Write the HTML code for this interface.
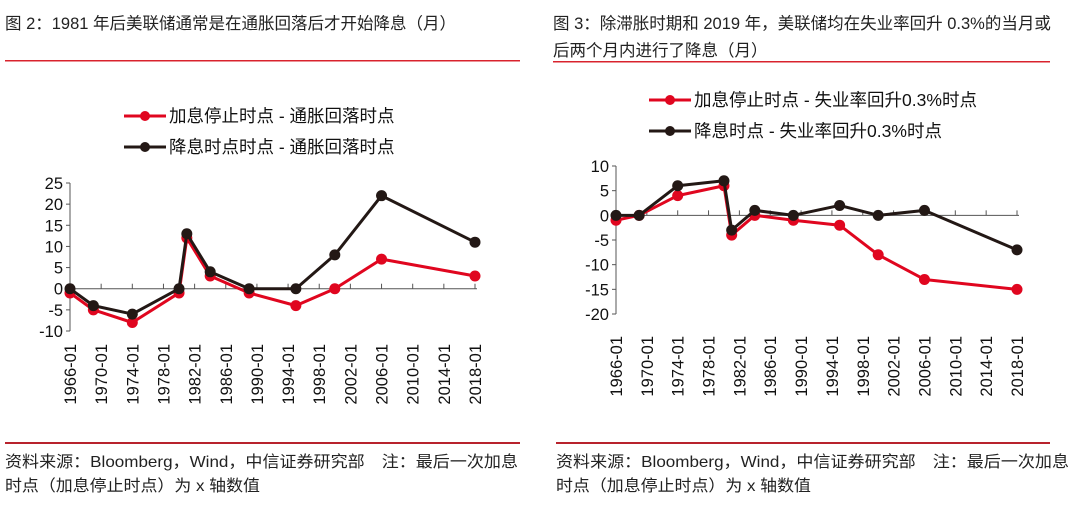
<!DOCTYPE html>
<html><head><meta charset="utf-8"><style>
body{margin:0;background:#fff;width:1080px;height:501px;overflow:hidden;font-family:"Liberation Sans","Noto Sans CJK SC",sans-serif;}
svg text{font-family:"Liberation Sans","Noto Sans CJK SC",sans-serif;}
</style></head><body>
<svg id="s" width="1080" height="501" viewBox="0 0 1080 501" xmlns="http://www.w3.org/2000/svg">
<text x="5" y="29" font-size="16.5" fill="#222">图 2：1981 年后美联储通常是在通胀回落后才开始降息（月）</text>
<rect x="5" y="60" width="515" height="1.5" fill="#d9232d"/>
<text x="553" y="29" font-size="16.5" fill="#222">图 3：除滞胀时期和 2019 年，美联储均在失业率回升 0.3%的当月或</text>
<text x="553" y="56" font-size="16.5" fill="#222">后两个月内进行了降息（月）</text>
<rect x="553" y="61" width="497" height="1.5" fill="#d9232d"/>
<rect x="5" y="442" width="515" height="2" fill="#b8232d"/>
<rect x="556" y="442" width="494" height="2" fill="#b8232d"/>
<text x="5" y="467" font-size="16" textLength="513" lengthAdjust="spacingAndGlyphs" fill="#222">资料来源：Bloomberg，Wind，中信证券研究部　注：最后一次加息</text>
<text x="5" y="491" font-size="16" textLength="255" lengthAdjust="spacingAndGlyphs" fill="#222">时点（加息停止时点）为 x 轴数值</text>
<text x="556" y="467" font-size="16" textLength="513" lengthAdjust="spacingAndGlyphs" fill="#222">资料来源：Bloomberg，Wind，中信证券研究部　注：最后一次加息</text>
<text x="556" y="491" font-size="16" textLength="255" lengthAdjust="spacingAndGlyphs" fill="#222">时点（加息停止时点）为 x 轴数值</text>
<g id="left"></g>
<g id="right"></g>
</svg>
<script>
const tickYears=[1966,1970,1974,1978,1982,1986,1990,1994,1998,2002,2006,2010,2014,2018];
const leftDates=[1966,1969,1974,1980,1981,1984,1989,1995,2000,2006,2018];
const leftRed=[-1,-5,-8,-1,12,3,-1,-4,0,7,3];
const leftBlack=[0,-4,-6,0,13,4,0,0,8,22,11];
const leftYTicks=[25,20,15,10,5,0,-5,-10];
const rightDates=[1966,1969,1974,1980,1981,1984,1989,1995,2000,2006,2018];
const rightRed=[-1,0,4,6,-4,0,-1,-2,-8,-13,-15];
const rightBlack=[0,0,6,7,-3,1,0,2,0,1,-7];
const rightYTicks=[10,5,0,-5,-10,-15,-20];
const RED="#e0061f",BLK="#231815",NS="http://www.w3.org/2000/svg";
function mk(p,tag,a){const e=document.createElementNS(NS,tag);for(const k in a)e.setAttribute(k,a[k]);p.appendChild(e);return e;}
function chart(g,o){
  const xs=v=>o.x0+(v-1966)/(2018-1966)*(o.x1-o.x0);
  const ys=v=>o.yTop+(o.yMax-v)/(o.yMax-o.yMin)*(o.yBot-o.yTop);
  const ax=mk(g,'line',{x1:o.x0,y1:o.yTop,x2:o.x0,y2:o.yBot,stroke:'#555','stroke-width':1});
  
  o.yt.forEach(v=>{
    mk(g,'line',{x1:o.x0-4,x2:o.x0,y1:ys(v),y2:ys(v),stroke:'#555'});
    const t=mk(g,'text',{x:o.x0-7,y:ys(v)+6,'text-anchor':'end','font-size':16.5,fill:'#111'});
    t.textContent=v;
    
  });
  const y0=ys(0);
  const xa=mk(g,'line',{x1:o.x0,y1:y0,x2:o.x1+2,y2:y0,stroke:'#555','stroke-width':1});
  
  tickYears.forEach(yr=>{
    const x=xs(yr);
    mk(g,'line',{x1:x,x2:x,y1:y0-5,y2:y0,stroke:'#555'});
    const t=mk(g,'text',{transform:`translate(${x+6},${o.lab}) rotate(-90)`,'text-anchor':'end','font-size':16.5,fill:'#111'});
    t.textContent=yr+'-01';
    
  });
  [[o.red,RED,'red'],[o.blk,BLK,'black']].forEach(([vals,c,n])=>{
    const pts=vals.map((v,i)=>xs(o.d[i])+','+ys(v)).join(' ');
    const pl=mk(g,'polyline',{points:pts,fill:'none',stroke:c,'stroke-width':3,'stroke-linejoin':'round'});
    
    vals.forEach((v,i)=>{
      const c2=mk(g,'circle',{cx:xs(o.d[i]),cy:ys(v),r:5.5,fill:c});
      
    });
  });
  o.leg.forEach((L,i)=>{
    const y=o.ly+i*31, c=i?BLK:RED;
    mk(g,'line',{x1:o.lx,x2:o.lx+42,y1:y,y2:y,stroke:c,'stroke-width':3});
    mk(g,'circle',{cx:o.lx+21,cy:y,r:5,fill:c});
    const t=mk(g,'text',{x:o.lx+45,y:y+6,'font-size':17.5,fill:'#111'});
    t.textContent=L;
    
  });
}
chart(document.getElementById('left'),{x0:70,x1:475,yTop:183,yBot:331,yMax:25,yMin:-10,yt:leftYTicks,d:leftDates,red:leftRed,blk:leftBlack,lab:344,lx:124,ly:116,leg:['加息停止时点 - 通胀回落时点','降息时点时点 - 通胀回落时点']});
chart(document.getElementById('right'),{x0:616,x1:1017,yTop:166,yBot:314,yMax:10,yMin:-20,yt:rightYTicks,d:rightDates,red:rightRed,blk:rightBlack,lab:336,lx:649,ly:100,leg:['加息停止时点 - 失业率回升0.3%时点','降息时点 - 失业率回升0.3%时点']});
</script>
</body></html>
